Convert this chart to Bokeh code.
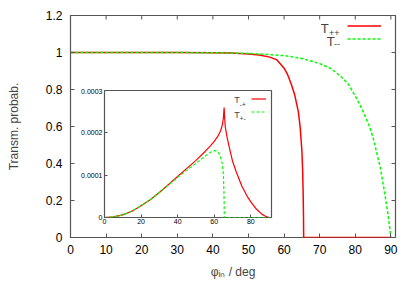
from bokeh.plotting import figure
from bokeh.models import (Range1d, FixedTicker, CustomJSTickFormatter,
                          Label, Legend, LegendItem)
from bokeh.embed import file_html
from bokeh.resources import INLINE

# ---------------- data ----------------
# main panel: T++ (red, solid)
phi_pp = [0, 10, 20, 30, 40, 45, 50, 53, 56, 58, 60, 61, 62, 63, 64, 64.5, 65, 65.2,
          65.35, 65.45, 65.5, 70, 80, 90]
T_pp = [1, 1, 1, 1, 0.999, 0.997, 0.992, 0.986, 0.975, 0.96, 0.915, 0.88, 0.83, 0.77,
        0.68, 0.6, 0.47, 0.37, 0.25, 0.12, 0, 0, 0, 0]
# main panel: T-- (green, dashed)
phi_mm = [0, 20, 40, 50, 55, 60, 65, 70, 73, 76, 78, 80, 82, 84, 85, 86, 87, 88, 89,
          89.5, 90]
T_mm = [1, 1, 0.999, 0.995, 0.99, 0.983, 0.968, 0.94, 0.915, 0.87, 0.83, 0.765, 0.69,
        0.6, 0.54, 0.46, 0.38, 0.27, 0.15, 0.08, 0]

# inset: T-+ (red, solid), values in units of 1e-4
phi_mp = [0, 5, 10, 15, 20, 25, 30, 35, 40, 45, 50, 55, 58, 60, 62, 63.5, 64.5, 65,
          65.4, 65.7, 66, 67, 68, 70, 72, 75, 78, 80, 83, 86, 88, 90]
T_mp_e4 = [0, 0.015, 0.06, 0.15, 0.28, 0.42, 0.59, 0.78, 0.97, 1.16, 1.35, 1.56, 1.70,
           1.80, 1.92, 2.05, 2.2, 2.35, 2.6, 2.35, 2.15, 1.9, 1.7, 1.33, 1.08, 0.75,
           0.5, 0.37, 0.2, 0.08, 0.03, 0]
# inset: T+- (green, dashed), values in units of 1e-4
phi_pm = [0, 5, 10, 15, 20, 25, 30, 35, 40, 45, 50, 53, 56, 58, 60, 61.5, 62.5, 63.5,
          64.5, 65, 65.3, 65.45, 65.5, 70, 80, 90]
T_pm_e4 = [0, 0.015, 0.06, 0.15, 0.28, 0.42, 0.59, 0.77, 0.95, 1.12, 1.28, 1.38, 1.48,
           1.54, 1.58, 1.57, 1.52, 1.42, 1.25, 1.0, 0.6, 0.2, 0, 0, 0, 0]
T_mp = [v * 1e-4 for v in T_mp_e4]
T_pm = [v * 1e-4 for v in T_pm_e4]

x_ticks = [0, 10, 20, 30, 40, 50, 60, 70, 80, 90]
y_ticks = [0, 0.2, 0.4, 0.6, 0.8, 1, 1.2]
inset_x_ticks = [0, 20, 40, 60, 80]
inset_y_ticks = [0, 0.0001, 0.0002, 0.0003]

FONT = "Liberation Sans"
RED = "#ff0000"
GREEN = "#00ff00"
FRAME = "#555555"

X_MAX = 91.3
Y_MAX = 1.2
FW, FH = 325, 222          # main frame size in px
TICK = 4                   # tick length in px

# ---------------- main figure ----------------
p = figure(width=415, height=291, output_backend="svg", toolbar_location=None,
           x_range=Range1d(0, X_MAX), y_range=Range1d(0, Y_MAX),
           min_border_left=70, min_border_right=20, min_border_top=15,
           min_border_bottom=54)
p.xgrid.visible = False
p.ygrid.visible = False
p.outline_line_color = FRAME
p.outline_line_width = 1.2
p.background_fill_color = "white"
p.border_fill_color = "white"

r_pp = p.line(phi_pp, T_pp, color=RED, line_width=1.5)
r_mm = p.line(phi_mm, T_mm, color=GREEN, line_width=1.5, line_dash="3 2")

main_fmt = CustomJSTickFormatter(code="return String(Math.round(tick*10)/10);")


def style_axis(ax, ticks, fmt, size, standoff, tick_in=TICK):
    ax.ticker = FixedTicker(ticks=ticks)
    ax.formatter = fmt
    ax.axis_line_color = None
    ax.major_tick_line_color = FRAME
    ax.major_tick_line_width = 1
    ax.major_tick_in = tick_in
    ax.major_tick_out = 0
    ax.minor_tick_line_color = None
    ax.major_label_text_font = FONT
    ax.major_label_text_color = "black"
    ax.major_label_text_font_size = size
    ax.major_label_standoff = standoff


style_axis(p.xaxis[0], x_ticks, main_fmt, "12px", 7)
style_axis(p.yaxis[0], y_ticks, main_fmt, "12px", 8)
p.yaxis[0].axis_label = "Transm. probab."
p.yaxis[0].axis_label_text_font = FONT
p.yaxis[0].axis_label_text_font_size = "12px"
p.yaxis[0].axis_label_text_font_style = "normal"
p.yaxis[0].axis_label_standoff = 22
p.xaxis[0].axis_label = "φᵢₙ / deg"
p.xaxis[0].axis_label_text_font = FONT
p.xaxis[0].axis_label_text_font_size = "12px"
p.xaxis[0].axis_label_text_font_style = "normal"
p.xaxis[0].axis_label_standoff = 8

# mirrored ticks on top and right border (drawn from the tick lists)
dy = TICK * Y_MAX / FH
dx = TICK * X_MAX / FW
p.segment(x0=x_ticks, y0=[Y_MAX] * len(x_ticks), x1=x_ticks,
          y1=[Y_MAX - dy] * len(x_ticks), line_color=FRAME, line_width=1)
p.segment(x0=[X_MAX] * len(y_ticks), y0=y_ticks, x1=[X_MAX - dx] * len(y_ticks),
          y1=y_ticks, line_color=FRAME, line_width=1)

# main legend
leg = Legend(items=[LegendItem(label=" ", renderers=[r_pp]),
                    LegendItem(label=" ", renderers=[r_mm])],
             location=(277, 192), padding=0, margin=0, spacing=0,
             glyph_width=34, glyph_height=13, label_height=13, label_width=0,
             label_standoff=0, label_text_font_size="9px",
             border_line_alpha=0, background_fill_alpha=0)
p.add_layout(leg)
for txt, x, y, fs in [("T", 70.3, 1.131, "13px"), ("++", 72.6, 1.107, "9px"),
                      ("T", 72.0, 1.058, "13px"), ("--", 74.0, 1.045, "9px")]:
    p.add_layout(Label(x=x, y=y, text=txt, text_font=FONT, text_font_size=fs,
                       text_baseline="alphabetic", text_align="left"))

# ---------------- inset figure ----------------
q = figure(width=195, height=141, output_backend="svg", toolbar_location=None,
           x_range=Range1d(0, X_MAX), y_range=Range1d(0, 0.0003),
           min_border_left=26, min_border_right=2, min_border_top=2,
           min_border_bottom=12)
q.xgrid.visible = False
q.ygrid.visible = False
q.outline_line_color = FRAME
q.outline_line_width = 1.2
q.background_fill_color = "white"
q.border_fill_alpha = 0
q.styles = {"position": "absolute", "left": "78px", "top": "88px"}

r_mp = q.line(phi_mp, T_mp, color=RED, line_width=1.2)
r_pm = q.line(phi_pm, T_pm, color=GREEN, line_width=1.2, line_dash="3 2")

inset_fmt = CustomJSTickFormatter(code="return tick == 0 ? '0' : tick.toFixed(4);")
inset_xfmt = CustomJSTickFormatter(code="return String(Math.round(tick));")
style_axis(q.xaxis[0], inset_x_ticks, inset_xfmt, "7px", 1, tick_in=3)
style_axis(q.yaxis[0], inset_y_ticks, inset_fmt, "7px", 2, tick_in=3)

leg2 = Legend(items=[LegendItem(label=" ", renderers=[r_mp]),
                     LegendItem(label=" ", renderers=[r_pm])],
              location=(147, 99), padding=0, margin=0, spacing=0,
              glyph_width=15, glyph_height=13, label_height=13, label_width=0,
              label_standoff=0, label_text_font_size="7px",
              border_line_alpha=0, background_fill_alpha=0)
q.add_layout(leg2)
for txt, x, y, fs in [("T", 70.9, 2.765e-4, "9px"), ("-+", 73.8, 2.66e-4, "7px"),
                      ("T", 70.9, 2.42e-4, "9px"), ("+-", 73.8, 2.34e-4, "7px")]:
    q.add_layout(Label(x=x, y=y, text=txt, text_font=FONT, text_font_size=fs,
                       text_baseline="alphabetic", text_align="left"))

open("out.html", "w").write(file_html([p, q], INLINE))
